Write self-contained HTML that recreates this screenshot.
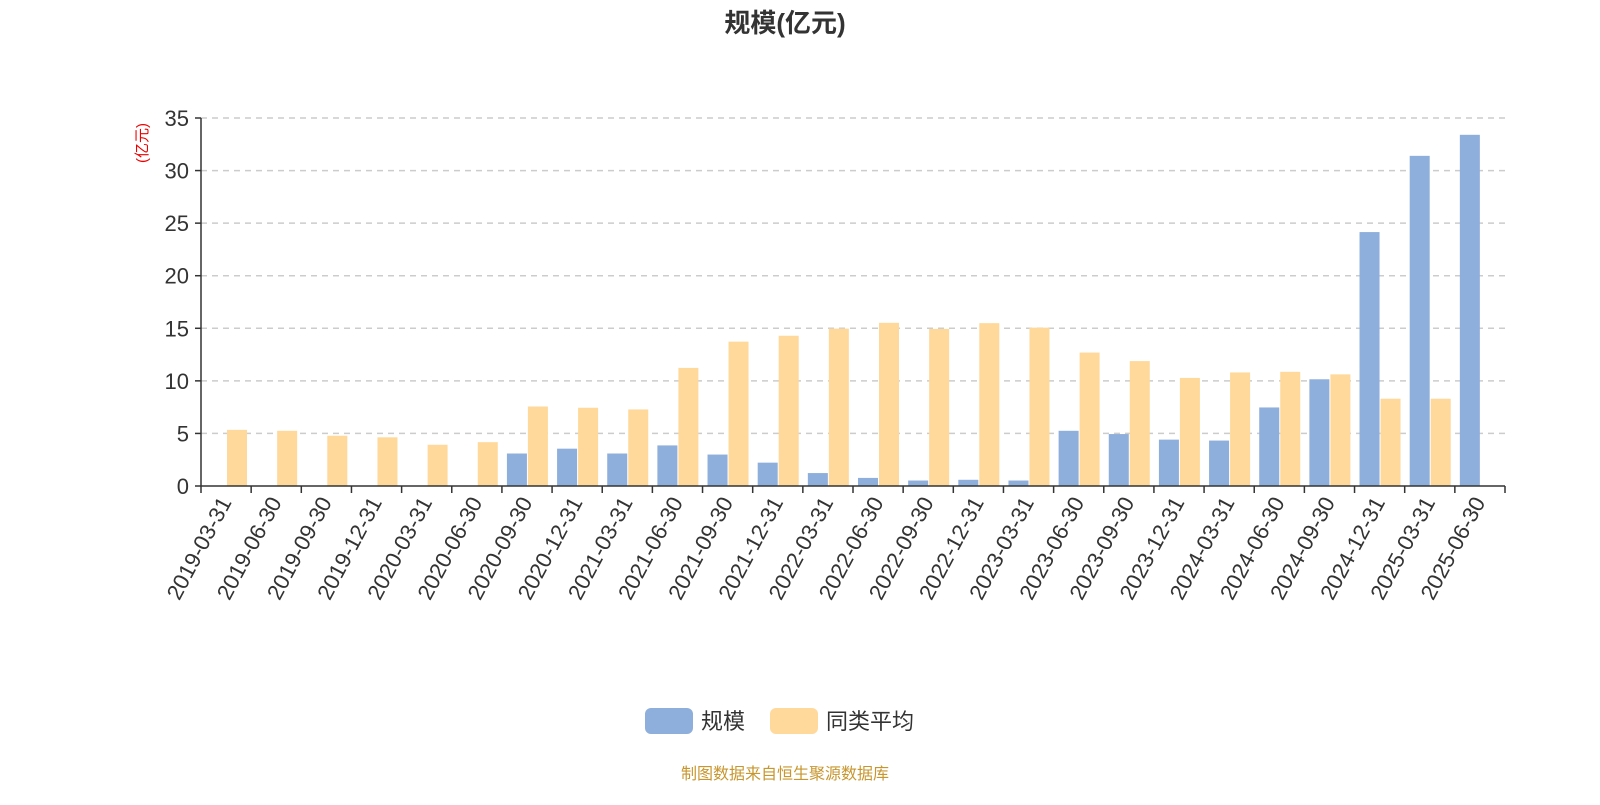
<!DOCTYPE html>
<html><head><meta charset="utf-8"><style>
body{margin:0;background:#fff;width:1600px;height:800px;overflow:hidden;font-family:"Liberation Sans","Noto Sans CJK SC",sans-serif}
</style></head><body>
<svg id="chart" width="1600" height="800" xmlns="http://www.w3.org/2000/svg" font-family="Liberation Sans, Noto Sans CJK SC, sans-serif">
<text x="785" y="32" text-anchor="middle" font-size="26" font-weight="bold" fill="#333">规模(亿元)</text>
<text transform="translate(147,143) rotate(-90)" text-anchor="middle" font-size="15" fill="#e00">(亿元)</text>
<g id="grid"></g><g id="bars"></g><g id="axes"></g>
<g>
<rect x="645" y="708" width="48" height="26" rx="6" fill="#8eaedb"/>
<text x="701" y="729" font-size="22" fill="#333">规模</text>
<rect x="770" y="708" width="48" height="26" rx="6" fill="#ffd99b"/>
<text x="826" y="729" font-size="22" fill="#333">同类平均</text>
</g>
<text x="785" y="779" text-anchor="middle" font-size="16" fill="#c8962e">制图数据来自恒生聚源数据库</text>
</svg>
<script>
const categories=["2019-03-31","2019-06-30","2019-09-30","2019-12-31","2020-03-31","2020-06-30","2020-09-30","2020-12-31","2021-03-31","2021-06-30","2021-09-30","2021-12-31","2022-03-31","2022-06-30","2022-09-30","2022-12-31","2023-03-31","2023-06-30","2023-09-30","2023-12-31","2024-03-31","2024-06-30","2024-09-30","2024-12-31","2025-03-31","2025-06-30"];
const scaleValues=[0,0,0,0,0,0,3.09,3.55,3.09,3.86,2.99,2.22,1.23,0.77,0.52,0.59,0.52,5.25,4.94,4.41,4.32,7.47,10.15,24.15,31.4,33.4];
const averageValues=[5.34,5.25,4.78,4.63,3.92,4.17,7.56,7.44,7.28,11.23,13.73,14.29,14.97,15.52,14.94,15.49,15.06,12.69,11.88,10.28,10.8,10.86,10.62,8.3,8.3,0];
const yTicks=[0,5,10,15,20,25,30,35];
const NS="http://www.w3.org/2000/svg";
const x0=201,x1=1505,yZero=486,yTop=118,yMax=35;
const bw=(x1-x0)/categories.length;
const yS=v=>yZero-(yZero-yTop)*v/yMax;
const xS=i=>x0+i*bw;
function mk(tag,attrs,parent){const e=document.createElementNS(NS,tag);for(const k in attrs)e.setAttribute(k,attrs[k]);parent.appendChild(e);return e;}
const grid=document.getElementById('grid'),bars=document.getElementById('bars'),axes=document.getElementById('axes');
yTicks.forEach(t=>{
 if(t>0){const l=mk('line',{x1:x0,x2:x1,y1:yS(t),y2:yS(t),stroke:'#ccc','stroke-width':1.5,'stroke-dasharray':'6,5'},grid);
 
 }
 const tk=mk('line',{x1:x0-6,x2:x0,y1:yS(t),y2:yS(t),stroke:'#333','stroke-width':1.5},axes);
 
 
 const tx=mk('text',{x:x0-12,y:yS(t)+8,'text-anchor':'end','font-size':22,fill:'#333'},axes);
 tx.textContent=t;
 
 
});
categories.forEach((c,i)=>{
 const b=scaleValues[i];
 if(b>0){const r=mk('rect',{x:xS(i)+5,y:yS(b),width:20,height:yZero-yS(b),fill:'#8eaedb'},bars);
 
 }
 const a=averageValues[i];
 if(a>0){const r2=mk('rect',{x:xS(i)+26,y:yS(a),width:20,height:yZero-yS(a),fill:'#ffd99b'},bars);
 
 }
 const tk=mk('line',{x1:xS(i),x2:xS(i),y1:yZero,y2:yZero+7,stroke:'#333','stroke-width':1.5},axes);
 
 
 const cx=xS(i)+bw/2+6;
 const tx=mk('text',{x:cx,y:yZero+16,'text-anchor':'end','font-size':22,fill:'#333',transform:`rotate(-62 ${cx} ${yZero+16})`},axes);
 tx.textContent=c;
 
 
});
const tkEnd=mk('line',{x1:x1,x2:x1,y1:yZero,y2:yZero+7,stroke:'#333','stroke-width':1.5},axes);


const ya=mk('line',{x1:x0,x2:x0,y1:yTop,y2:yZero,stroke:'#333','stroke-width':1.5},axes);


const xa=mk('line',{x1:x0,x2:x1,y1:yZero,y2:yZero,stroke:'#333','stroke-width':1.5},axes);


</script>
</body></html>
